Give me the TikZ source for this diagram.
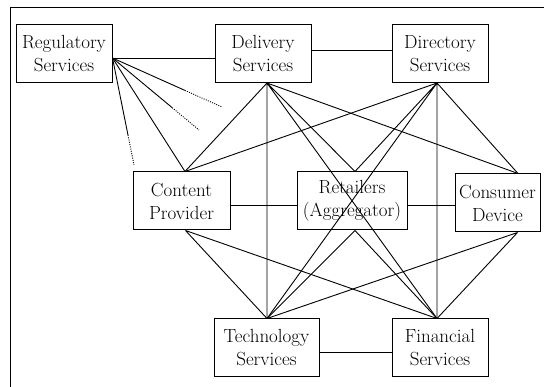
\documentclass[tikz,border=0pt]{standalone}
\usetikzlibrary{calc}
\tikzset{box/.style={draw,line width=1pt,align=center,inner sep=0pt,minimum height=58pt,font=\fontsize{19}{23}\selectfont},
         link/.style={line width=0.9pt},
         fade/.style={line width=0.9pt,dash pattern=on 1pt off 1.3pt}}
\begin{document}
\begin{tikzpicture}[x=1pt,y=-1pt]
\useasboundingbox (0,0) rectangle (544,387);
\draw[line width=1pt] (544,8) -- (10,8) -- (10,387);

\node[box,minimum width=96pt] (reg) at (64,53.5) {Regulatory\\Services};
\node[box,minimum width=96pt] (del) at (263,53.5) {Delivery\\Services};
\node[box,minimum width=96pt] (dir) at (440,53.5) {Directory\\Services};
\node[box,minimum width=97pt] (con) at (181.5,201) {Content\\Provider};
\node[box,minimum width=110pt] (ret) at (352,201) {Retailers\\(Aggregator)};
\node[box,minimum width=85pt] (cons) at (497.5,203) {Consumer\\Device};
\node[box,minimum width=105pt] (tech) at (266.5,348) {Technology\\Services};
\node[box,minimum width=96pt] (fin) at (440,348) {Financial\\Services};

% attachment points
\coordinate (rp) at ([yshift=-4.5pt]reg.east);
\coordinate (ds) at ([xshift=4pt]del.south);
\coordinate (irs) at ([xshift=-3pt]dir.south);
\coordinate (cnn) at ([xshift=3.5pt]con.north);
\coordinate (cns) at ([xshift=4pt]con.south);
\coordinate (rn) at ([xshift=3pt]ret.north);
\coordinate (rs) at ([xshift=3pt]ret.south);
\coordinate (cn) at ([xshift=20.5pt]cons.north);
\coordinate (cs) at ([xshift=20pt]cons.south);
\coordinate (tn) at ([xshift=0.5pt]tech.north);
\coordinate (fn) at ([xshift=-3pt]fin.north);
\coordinate (d1) at (222,107);
\coordinate (d2) at (199,130);
\coordinate (d3) at (134,165);

% regulatory
\draw[link] (rp) -- (rp -| del.west);
\draw[link] (rp) -- (cnn);
\draw[link] (rp) -- ($(rp)!0.66!(d1)$);
\draw[fade] ($(rp)!0.66!(d1)$) -- (d1);
\draw[link] (rp) -- ($(rp)!0.69!(d2)$);
\draw[fade] ($(rp)!0.69!(d2)$) -- (d2);
\draw[link] (rp) -- ($(rp)!0.72!(d3)$);
\draw[fade] ($(rp)!0.72!(d3)$) -- (d3);

% top row
\draw[link] ([yshift=3.5pt]del.east) -- ([yshift=3.5pt]dir.west);
\draw[link] (ds) -- (cnn) (ds) -- (rn) (ds) -- (tn) (ds) -- (fn) (ds) -- (cn);
\draw[link] (irs) -- (cnn) (irs) -- (rn) (irs) -- (tn) (irs) -- (fn) (irs) -- (cn);

% middle row
\draw[link] ([yshift=-4pt]con.east) -- ([yshift=-4pt]ret.west);
\draw[link] ([yshift=-4pt]ret.east) -- ([yshift=-4pt]ret.east -| cons.west);
\draw[link] (cns) -- (tn) (cns) -- (fn);
\draw[link] (rs) -- (tn) (rs) -- (fn);
\draw[link] (cs) -- (tn) (cs) -- (fn);

% bottom row
\draw[link] ([yshift=-4pt]tech.east) -- ([yshift=-4pt]fin.west);
\end{tikzpicture}
\end{document}
